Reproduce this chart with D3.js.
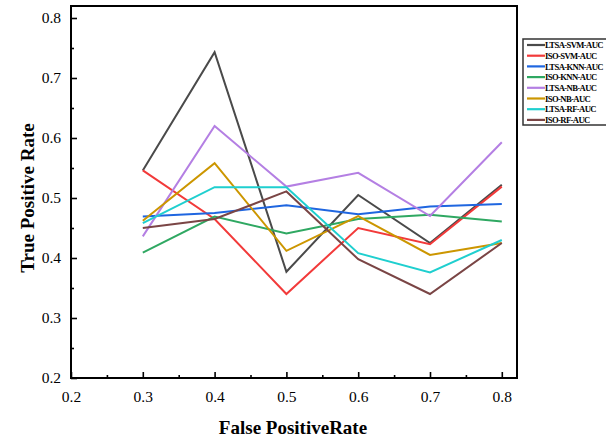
<!DOCTYPE html>
<html>
<head>
<meta charset="utf-8">
<script src="https://cdn.jsdelivr.net/npm/d3@7"></script>
<style>
  html, body { margin: 0; padding: 0; background: #fff; }
  svg { display: block; }
  text { font-family: "Liberation Serif", "Times New Roman", serif; }
</style>
</head>
<body>
<svg id="chart" width="606" height="440"></svg>
<script>
// False positive rate sample points
const fpr = [0.3, 0.4, 0.5, 0.6, 0.7, 0.8];

// True positive rate per method
const ltsaSvm = [0.546, 0.743, 0.377, 0.505, 0.425, 0.522];
const isoSvm  = [0.546, 0.465, 0.340, 0.450, 0.423, 0.519];
const ltsaKnn = [0.469, 0.475, 0.488, 0.473, 0.486, 0.490];
const isoKnn  = [0.409, 0.469, 0.441, 0.465, 0.472, 0.461];
const ltsaNb  = [0.436, 0.620, 0.519, 0.542, 0.470, 0.593];
const isoNb   = [0.462, 0.558, 0.412, 0.470, 0.405, 0.425];
const ltsaRf  = [0.458, 0.518, 0.518, 0.408, 0.376, 0.430];
const isoRf   = [0.450, 0.465, 0.511, 0.398, 0.340, 0.425];

const seriesNames = ["LTSA-SVM-AUC", "ISO-SVM-AUC", "LTSA-KNN-AUC", "ISO-KNN-AUC",
                     "LTSA-NB-AUC", "ISO-NB-AUC", "LTSA-RF-AUC", "ISO-RF-AUC"];
const seriesValues = [ltsaSvm, isoSvm, ltsaKnn, isoKnn, ltsaNb, isoNb, ltsaRf, isoRf];
const seriesColors = ["#4a4a4a", "#f23a3a", "#1f66e0", "#2fa862", "#b47fe3",
                      "#cc9600", "#1fcfcf", "#7a4545"];

const xTicks = [0.2, 0.3, 0.4, 0.5, 0.6, 0.7, 0.8];
const yTicks = [0.2, 0.3, 0.4, 0.5, 0.6, 0.7, 0.8];
const xMinor = [0.25, 0.35, 0.45, 0.55, 0.65, 0.75];
const yMinor = [0.25, 0.35, 0.45, 0.55, 0.65, 0.75];

const svg = d3.select("#chart");
const plotLeft = 71, plotRight = 517, plotTop = 6, plotBottom = 378;

// Axis ranges extend slightly past 0.8 on both axes
const x = d3.scaleLinear().domain([0.2, 0.2 + (plotRight - plotLeft) / 718]).range([plotLeft, plotRight]);
const y = d3.scaleLinear().domain([0.2, 0.2 + (plotBottom - plotTop) / 600]).range([plotBottom, plotTop]);

// Axes with inward ticks
const gx = svg.append("g").attr("transform", `translate(0,${plotBottom})`)
  .call(d3.axisBottom(x).tickValues(xTicks).tickSize(-6).tickPadding(13)
        .tickFormat(d3.format(".1f")));
const gxm = svg.append("g").attr("transform", `translate(0,${plotBottom})`)
  .call(d3.axisBottom(x).tickValues(xMinor).tickSize(-3).tickFormat(""));
const gy = svg.append("g").attr("transform", `translate(${plotLeft},0)`)
  .call(d3.axisLeft(y).tickValues(yTicks).tickSize(-6).tickPadding(10)
        .tickFormat(d3.format(".1f")));
const gym = svg.append("g").attr("transform", `translate(${plotLeft},0)`)
  .call(d3.axisLeft(y).tickValues(yMinor).tickSize(-3).tickFormat(""));

[gx, gxm, gy, gym].forEach(g => {
  g.select(".domain").remove();
  g.selectAll(".tick line").attr("stroke", "#000").attr("stroke-width", 1.6);
  g.selectAll(".tick text").attr("fill", "#000").style("font-size", "15.5px")
    .style("font-family", "'Liberation Serif', serif");
});

// Plot lines
const line = d3.line().x((d, i) => x(fpr[i])).y(d => y(d));
seriesValues.forEach((vals, k) => {
  svg.append("path").datum(vals)
    .attr("d", line)
    .attr("fill", "none")
    .attr("stroke", seriesColors[k])
    .attr("stroke-width", 2)
    .attr("stroke-linejoin", "miter");
});

// Frame
svg.append("rect")
  .attr("x", plotLeft).attr("y", plotTop)
  .attr("width", plotRight - plotLeft).attr("height", plotBottom - plotTop)
  .attr("fill", "none").attr("stroke", "#000").attr("stroke-width", 2);

// Axis titles
svg.append("text")
  .attr("x", 293).attr("y", 434)
  .attr("text-anchor", "middle")
  .style("font-size", "19px").style("font-weight", "bold")
  .text("False PositiveRate");

svg.append("text")
  .attr("transform", `translate(34,198) rotate(-90)`)
  .attr("text-anchor", "middle")
  .style("font-size", "19px").style("font-weight", "bold")
  .text("True Positive Rate");

// Legend (box runs off the right edge)
const lg = svg.append("g").attr("transform", "translate(523,39)");
lg.append("rect")
  .attr("x", 0).attr("y", 0).attr("width", 110).attr("height", 86)
  .attr("fill", "#fff").attr("stroke", "#333").attr("stroke-width", 1.5);
seriesNames.forEach((name, k) => {
  const yy = 6 + k * 10.7;
  lg.append("line")
    .attr("x1", 4).attr("x2", 22).attr("y1", yy).attr("y2", yy)
    .attr("stroke", seriesColors[k]).attr("stroke-width", 2.2);
  lg.append("text")
    .attr("x", 22).attr("y", yy + 3.2)
    .style("font-size", "8.6px").style("font-weight", "bold")
    .style("letter-spacing", "-0.6px")
    .text(name);
});
</script>
</body>
</html>
